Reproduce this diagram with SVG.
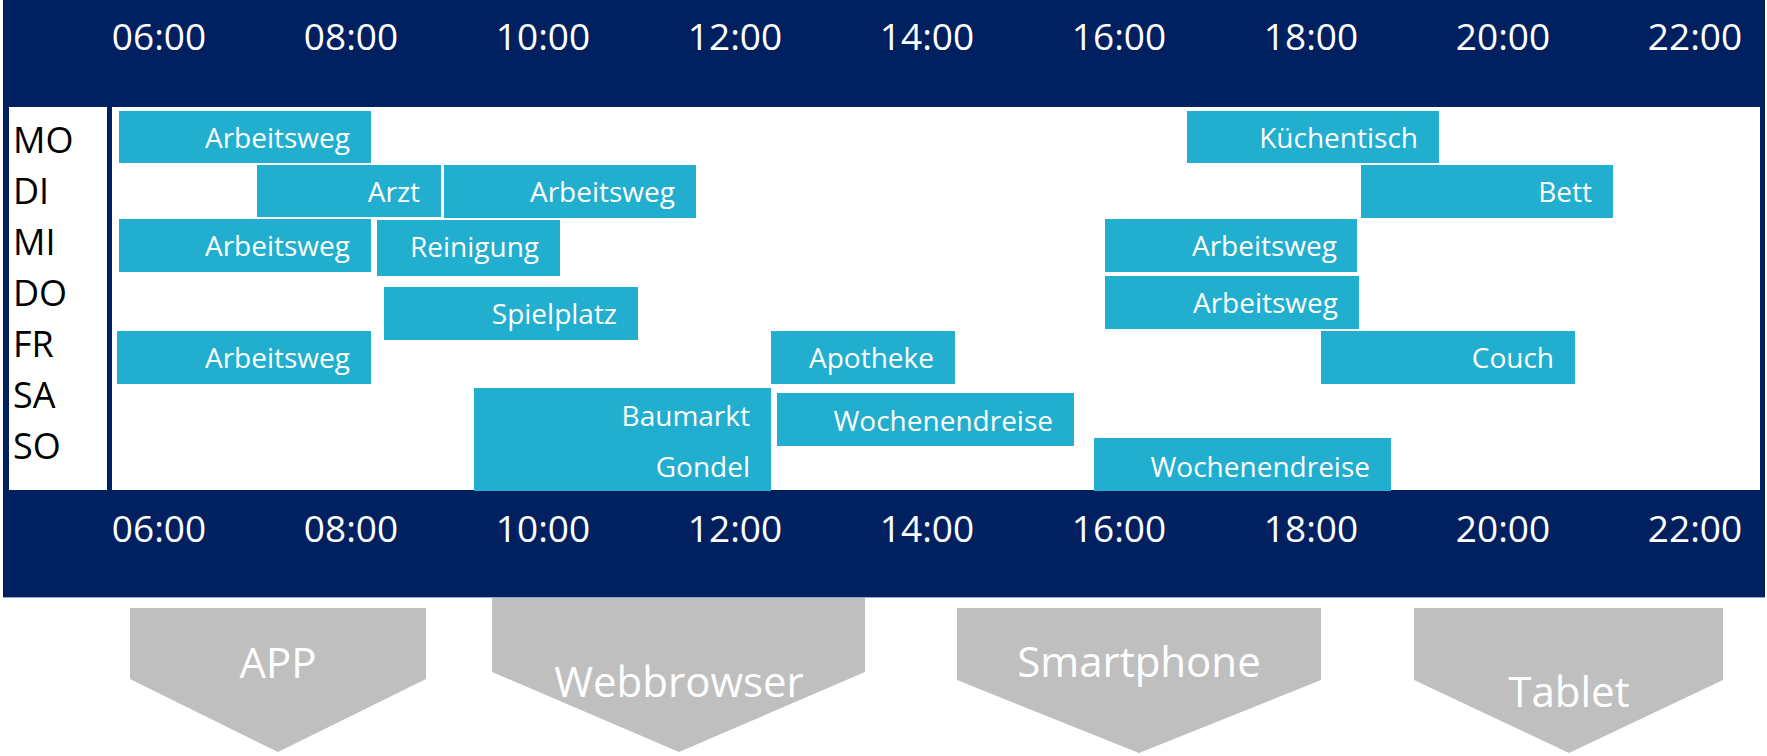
<svg xmlns="http://www.w3.org/2000/svg" width="1767" height="756" viewBox="0 0 1767 756">
<style>
.tl{font-family:"Open Sans","Liberation Sans",sans-serif;font-size:37px;fill:#fff;text-anchor:middle}
.day{font-family:"Open Sans","Liberation Sans",sans-serif;font-size:36px;fill:#000}
.ev rect{fill:#21aecf}
.ev text{font-family:"Open Sans","Liberation Sans",sans-serif;font-size:28px;fill:#fff;text-anchor:end}
.dev polygon{fill:#bfbfbf}
.dev text{font-family:"Open Sans","Liberation Sans",sans-serif;font-size:42px;fill:#fff;text-anchor:middle}
</style>
<rect width="1767" height="756" fill="#fff"/>
<g id="frame">
<rect x="3" y="0" width="1762" height="597" fill="#002060"/>
<line x1="3" y1="597.5" x2="1765" y2="597.5" stroke="#8ea9db" stroke-width="1"/>
<rect x="9" y="107" width="98" height="383" fill="#fff"/>
<rect x="112" y="107" width="1648" height="383" fill="#fff"/>
</g>
<g id="times-top">
<text class="tl" x="159" y="50">06:00</text>
<text class="tl" x="351" y="50">08:00</text>
<text class="tl" x="543" y="50">10:00</text>
<text class="tl" x="735" y="50">12:00</text>
<text class="tl" x="927" y="50">14:00</text>
<text class="tl" x="1119" y="50">16:00</text>
<text class="tl" x="1311" y="50">18:00</text>
<text class="tl" x="1503" y="50">20:00</text>
<text class="tl" x="1695" y="50">22:00</text>
</g>
<g id="times-bottom">
<text class="tl" x="159" y="542">06:00</text>
<text class="tl" x="351" y="542">08:00</text>
<text class="tl" x="543" y="542">10:00</text>
<text class="tl" x="735" y="542">12:00</text>
<text class="tl" x="927" y="542">14:00</text>
<text class="tl" x="1119" y="542">16:00</text>
<text class="tl" x="1311" y="542">18:00</text>
<text class="tl" x="1503" y="542">20:00</text>
<text class="tl" x="1695" y="542">22:00</text>
</g>
<g id="days">
<text class="day" x="13" y="153">MO</text>
<text class="day" x="13" y="204">DI</text>
<text class="day" x="13" y="255">MI</text>
<text class="day" x="13" y="306">DO</text>
<text class="day" x="13" y="357">FR</text>
<text class="day" x="13" y="408">SA</text>
<text class="day" x="13" y="459">SO</text>
</g>
<g id="ev-mo-arbeitsweg" class="ev"><rect x="119" y="111" width="252" height="52"/><text x="350" y="148">Arbeitsweg</text></g>
<g id="ev-di-arzt" class="ev"><rect x="257" y="165" width="184" height="52"/><text x="420" y="202">Arzt</text></g>
<g id="ev-di-arbeitsweg" class="ev"><rect x="444" y="165" width="252" height="53"/><text x="675" y="202">Arbeitsweg</text></g>
<g id="ev-mi-arbeitsweg" class="ev"><rect x="119" y="219" width="252" height="53"/><text x="350" y="256">Arbeitsweg</text></g>
<g id="ev-mi-reinigung" class="ev"><rect x="377" y="220" width="183" height="56"/><text x="539" y="257">Reinigung</text></g>
<g id="ev-do-spielplatz" class="ev"><rect x="384" y="287" width="254" height="53"/><text x="617" y="324">Spielplatz</text></g>
<g id="ev-fr-arbeitsweg" class="ev"><rect x="117" y="331" width="254" height="53"/><text x="350" y="368">Arbeitsweg</text></g>
<g id="ev-sa-so-baumarkt-gondel" class="ev"><rect x="474" y="388" width="297" height="103"/><text x="750" y="426">Baumarkt</text><text x="750" y="477">Gondel</text></g>
<g id="ev-fr-apotheke" class="ev"><rect x="771" y="331" width="184" height="53"/><text x="934" y="368">Apotheke</text></g>
<g id="ev-sa-wochenendreise" class="ev"><rect x="777" y="393" width="297" height="53"/><text x="1053" y="431">Wochenendreise</text></g>
<g id="ev-so-wochenendreise" class="ev"><rect x="1094" y="438" width="297" height="53"/><text x="1370" y="477">Wochenendreise</text></g>
<g id="ev-mi-arbeitsweg-2" class="ev"><rect x="1105" y="219" width="252" height="53"/><text x="1337" y="256">Arbeitsweg</text></g>
<g id="ev-do-arbeitsweg-2" class="ev"><rect x="1105" y="276" width="254" height="53"/><text x="1338" y="313">Arbeitsweg</text></g>
<g id="ev-mo-kuechentisch" class="ev"><rect x="1187" y="111" width="252" height="52"/><text x="1418" y="148">Küchentisch</text></g>
<g id="ev-di-bett" class="ev"><rect x="1361" y="165" width="252" height="53"/><text x="1592" y="202">Bett</text></g>
<g id="ev-fr-couch" class="ev"><rect x="1321" y="331" width="254" height="53"/><text x="1554" y="368">Couch</text></g>
<g id="dev-app" class="dev"><polygon points="130,608 426,608 426,679 278,752 130,679"/><text x="278" y="678">APP</text></g>
<g id="dev-webbrowser" class="dev"><polygon points="492,598 865,598 865,672 679,752 492,672"/><text x="679" y="697">Webbrowser</text></g>
<g id="dev-smartphone" class="dev"><polygon points="957,608 1321,608 1321,680 1139,753 957,680"/><text x="1139" y="677">Smartphone</text></g>
<g id="dev-tablet" class="dev"><polygon points="1414,608 1723,608 1723,680 1569,753 1414,680"/><text x="1569" y="707">Tablet</text></g>
</svg>
